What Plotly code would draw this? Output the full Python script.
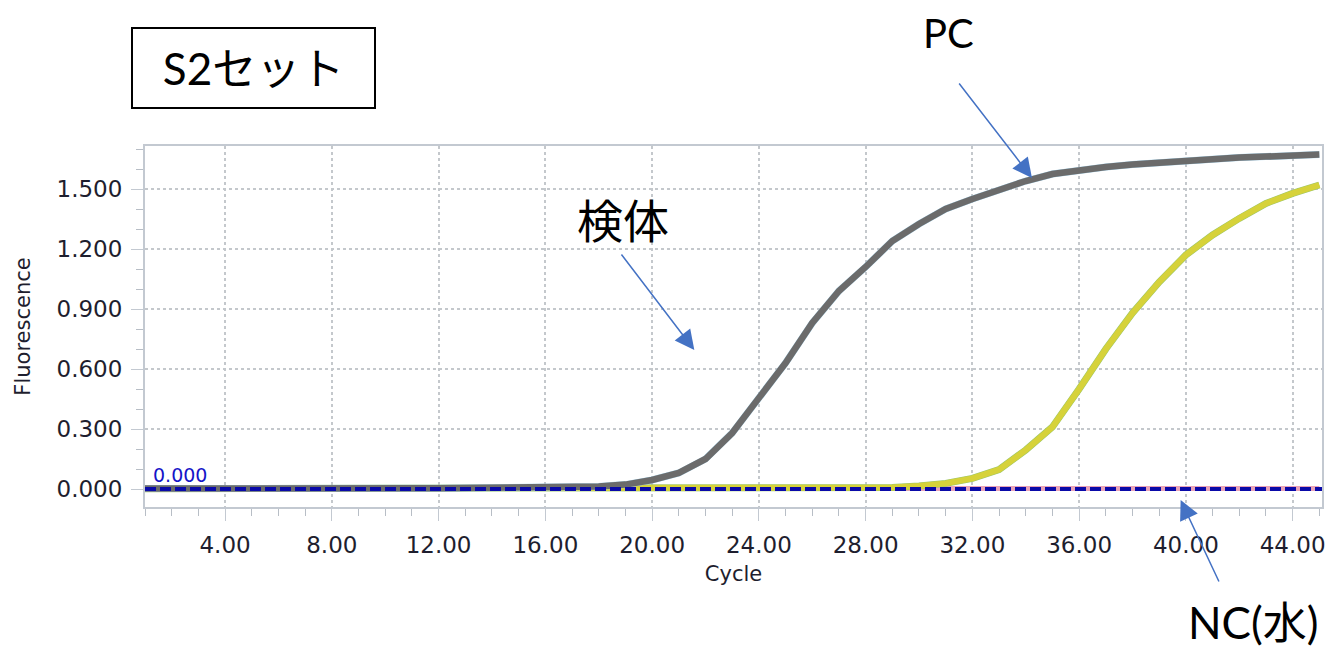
import plotly.graph_objects as go

# ---------------- data ----------------
cycles = list(range(1, 46))

pc_values = [0.002, 0.003, 0.003, 0.004, 0.004, 0.005, 0.006, 0.005, 0.006, 0.005,
             0.004, 0.004, 0.004, 0.005, 0.005, 0.006, 0.007, 0.012, 0.022, 0.045,
             0.080, 0.150, 0.280, 0.460, 0.630, 0.830, 0.990, 1.110, 1.240, 1.325,
             1.400, 1.450, 1.495, 1.540, 1.575, 1.595, 1.610, 1.622, 1.632, 1.642,
             1.650, 1.657, 1.662, 1.666, 1.672]

sample_values = [0.001, 0.001, 0.001, 0.001, 0.001, 0.001, 0.001, 0.001, 0.001, 0.001,
                 0.001, 0.001, 0.001, 0.001, 0.001, 0.001, 0.001, 0.001, 0.001, 0.001,
                 0.001, 0.001, 0.001, 0.001, 0.001, 0.002, 0.002, 0.004, 0.008, 0.015,
                 0.028, 0.053, 0.097, 0.195, 0.310, 0.500, 0.700, 0.880, 1.035, 1.170,
                 1.270, 1.353, 1.428, 1.478, 1.520]

nc_values = [0.003] * 45

threshold = 0.0

x_ticks = [4, 8, 12, 16, 20, 24, 28, 32, 36, 40, 44]
y_ticks = [0.0, 0.3, 0.6, 0.9, 1.2, 1.5]

label_box = "S2セット"
label_pc = "PC"
label_sample = "検体"
label_nc = "NC(水)"

# ---------------- figure ----------------
fig = go.Figure()

fig.add_trace(go.Scatter(x=cycles, y=nc_values, mode="lines",
                         line=dict(color="#e9a3b8", width=5), hoverinfo="skip"))
fig.add_trace(go.Scatter(x=cycles, y=sample_values, mode="lines",
                         line=dict(color="#9cc66a", width=7), hoverinfo="skip"))
fig.add_trace(go.Scatter(x=cycles, y=sample_values, mode="lines",
                         line=dict(color="#d6d23a", width=6), hoverinfo="skip"))
fig.add_trace(go.Scatter(x=cycles, y=pc_values, mode="lines",
                         line=dict(color="#a9d3ea", width=7), hoverinfo="skip"))
fig.add_trace(go.Scatter(x=cycles, y=pc_values, mode="lines",
                         line=dict(color="#6b6b6b", width=6.5), hoverinfo="skip"))

# threshold line
fig.add_shape(type="line", xref="paper", x0=0, x1=1, yref="y", y0=threshold, y1=threshold,
              line=dict(color="#0a0aa8", width=4, dash="11px,4px"), layer="above")

tick_font = dict(family="DejaVu Sans", size=23, color="#1e1e2e")
title_font = dict(family="DejaVu Sans", size=21, color="#1e1e2e")

fig.update_layout(
    width=1334, height=639,
    margin=dict(l=137, r=20, t=138, b=140),
    paper_bgcolor="white", plot_bgcolor="white",
    showlegend=False,
    xaxis=dict(range=[1.0, 45.1], tickvals=x_ticks, tickformat=".2f",
               showgrid=True, gridcolor="#c4c8cc", gridwidth=1.5, griddash="dot",
               zeroline=False, showline=True, linecolor="#c3c9d1", linewidth=2, mirror=True,
               ticks="outside", ticklen=12, tickcolor="#c3c9d1", tickwidth=1,
               ticklabelstandoff=4,
               minor=dict(dtick=1, tick0=0, ticks="outside", ticklen=7, tickcolor="#b8bec6",
                          showgrid=False),
               tickfont=tick_font,
               title=dict(text="Cycle", font=title_font, standoff=10)),
    yaxis=dict(range=[-0.09, 1.715], tickvals=y_ticks, tickformat=".3f",
               showgrid=True, gridcolor="#c4c8cc", gridwidth=1.5, griddash="dot",
               zeroline=False, showline=True, linecolor="#c3c9d1", linewidth=2, mirror=True,
               ticks="outside", ticklen=12, tickcolor="#c3c9d1", tickwidth=1,
               ticklabelstandoff=4,
               minor=dict(dtick=0.1, tick0=0, ticks="outside", ticklen=7, tickcolor="#b8bec6",
                          showgrid=False),
               tickfont=tick_font,
               title=dict(text="Fluorescence", font=title_font, standoff=20)),
)

# threshold value label
fig.add_annotation(x=0.005, xref="paper", y=threshold, yref="y", text=f"{threshold:.3f}",
                   showarrow=False, xanchor="left", yanchor="bottom", yshift=1,
                   font=dict(family="DejaVu Sans", size=19, color="#1414c8"))

big_font = "Lato, 'Noto Sans CJK JP', sans-serif"

# boxed title
fig.add_annotation(x=0.0922, y=1.216, xref="paper", yref="paper", text=label_box,
                   showarrow=False, xanchor="center", yanchor="middle",
                   width=241, height=78, borderpad=0, bordercolor="black", borderwidth=2,
                   bgcolor="white", font=dict(family=big_font, size=44, color="black"))

fig.add_annotation(x=0.6827, y=1.3130, xref="paper", yref="paper", text=label_pc,
                   showarrow=False, xanchor="center", yanchor="middle",
                   font=dict(family=big_font, size=40, color="black"))
fig.add_annotation(x=0.4057, y=0.8006, xref="paper", yref="paper", text=label_sample,
                   showarrow=False, xanchor="center", yanchor="middle",
                   font=dict(family="'Noto Sans CJK JP'", size=46, color="black"))
fig.add_annotation(x=0.9414, y=-0.318, xref="paper", yref="paper", text=label_nc,
                   showarrow=False, xanchor="center", yanchor="middle", height=48,
                   font=dict(family=big_font, size=44, color="black"))

# pointer arrows
arrow_style = dict(showarrow=True, text="", arrowhead=2, arrowsize=2.6, arrowwidth=1.5,
                   arrowcolor="#4472c4", xref="paper", yref="paper", axref="pixel", ayref="pixel",
                   standoff=0)
fig.add_annotation(x=0.7536, y=0.9114, ax=-74, ay=-96, **arrow_style)
fig.add_annotation(x=0.4667, y=0.4349, ax=-74, ay=-97, **arrow_style)
fig.add_annotation(x=0.8799, y=0.0194, ax=39, ay=83, **arrow_style)

fig.write_html("out.html")
